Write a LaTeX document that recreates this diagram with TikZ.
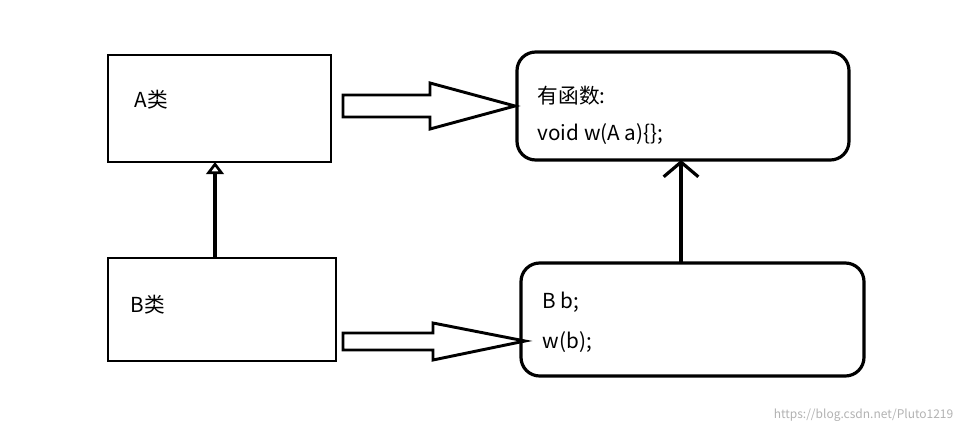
\documentclass[tikz,border=0pt]{standalone}
\usepackage{fontspec}
\setmainfont{Noto Sans CJK SC}
\usetikzlibrary{arrows.meta,positioning}
\tikzset{
  plain/.style={draw,line width=1.6pt},
  rbox/.style={draw,line width=2.4pt,rounded corners=14pt},
  fat/.style={draw,line width=2.2pt,line join=miter},
  link/.style={line width=2.4pt},
}
\begin{document}
\begin{tikzpicture}[x=0.75pt,y=-0.75pt,font=\fontsize{15.5}{19}\selectfont]
  \useasboundingbox (0,0) rectangle (965,432);
  % class boxes
  \draw[plain] (108,55) rectangle (331,162);
  \coordinate (Abot) at (215,162);
  \node[right] (A) at (130,100) {A类};
  \draw[plain] (108,258) rectangle (336,361);
  \coordinate (Btop) at (215,258);
  \node[right] (B) at (126,305) {B类};

  % code boxes
  \draw[rbox] (517,52) rectangle (849,160);
  \coordinate (Ftop) at (681,160);
  \node[right] (f1) at (533,96) {有函数:};
  \node[right] (f2) at (533,134) {void w(A a)\{\};};
  \draw[rbox] (521,263) rectangle (864,376);
  \coordinate (Gtop) at (681,263);
  \node[right] (g1) at (538,302) {B b;};
  \node[right] (g2) at (538,342) {w(b);};

  % block arrows
  \draw[fat] (343,95) -- (430,95) -- (430,83) -- (515,106) -- (430,129) -- (430,117) -- (343,117) -- cycle;
  \draw[fat] (343,333) -- (433,333) -- (433,323) -- (525,341) -- (433,360) -- (433,350) -- (343,350) -- cycle;

  % inheritance and use
  \draw[link,-{Triangle[open,length=9pt,width=13pt,line width=2pt]}] (Btop) -- (Abot);
  \draw[link,-{Straight Barb[length=11pt,width=26pt,line width=2.4pt]}] (Gtop) -- (Ftop);

  \node[text=gray!60,font=\fontsize{9}{11}\selectfont,anchor=south east] (wm) at (958,426) {https://blog.csdn.net/Pluto1219};
\end{tikzpicture}
\end{document}
